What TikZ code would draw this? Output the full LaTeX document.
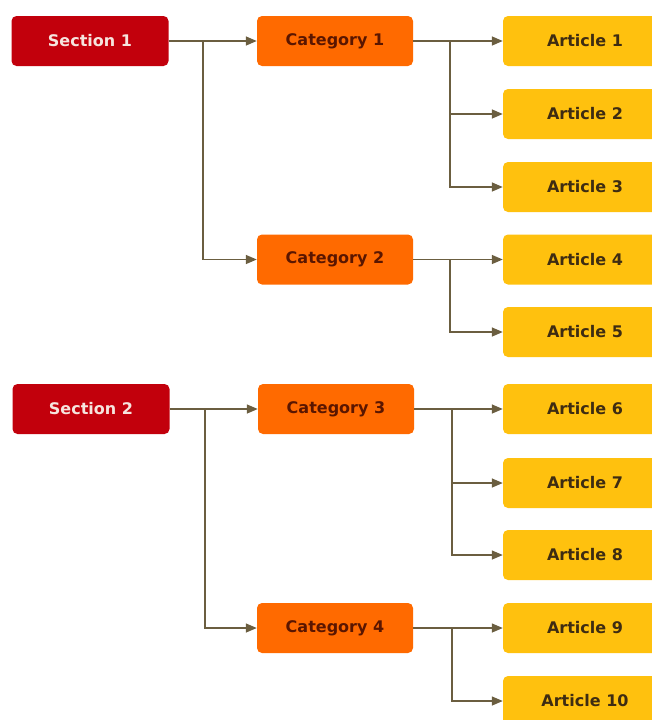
\documentclass[tikz,border=0pt]{standalone}
\usepackage{fontspec}
\setmainfont{DejaVu Sans}
\usetikzlibrary{arrows.meta}
\definecolor{secfill}{HTML}{C2000C}
\definecolor{sectext}{HTML}{F6E4DE}
\definecolor{catfill}{HTML}{FF6A00}
\definecolor{cattext}{HTML}{5A1600}
\definecolor{artfill}{HTML}{FFC10E}
\definecolor{arttext}{HTML}{3E2C12}
\definecolor{linecol}{HTML}{6B5E40}
\tikzset{
  box/.style={rounded corners=5pt, minimum height=50pt, inner sep=0pt,
    font=\fontsize{16}{19}\selectfont\bfseries},
  secbox/.style={box, fill=secfill, text=sectext, minimum width=157pt},
  catbox/.style={box, fill=catfill, text=cattext, minimum width=156pt},
  artbox/.style={box, fill=artfill, text=arttext, minimum width=170pt},
  conn/.style={draw=linecol, line width=1.4pt, -{Triangle[length=11pt,width=9pt]}},
}
\begin{document}
\begin{tikzpicture}[x=1pt,y=-1pt]
\useasboundingbox (0,0) rectangle (652,720);
\clip (0,0) rectangle (652,720);
% sections
\node[secbox] (s1) at (90,41) {Section 1};
\node[secbox] (s2) at (91,409) {Section 2};
% categories
\node[catbox] (c1) at (335,41) {Category 1};
\node[catbox] (c2) at (335,259.5) {Category 2};
\node[catbox] (c3) at (336,409) {Category 3};
\node[catbox] (c4) at (335,628) {Category 4};
% articles
\foreach \i/\y in {1/41,2/114,3/187,4/259.5,5/332,6/409,7/483,8/555,9/628,10/701}{
  \node[artbox] (a\i) at (588,\y) {\hspace*{-6pt}Article \i};
}
% junctions
\coordinate (j1) at (203,41);
\coordinate (j2) at (205,409);
\coordinate (k1) at (450,41);
\coordinate (k2) at (450,259.5);
\coordinate (k3) at (452,409);
\coordinate (k4) at (452,628);
% section -> category
\draw[conn] (s1.east) -- (c1.west);
\draw[conn] (j1) |- (c2.west);
\draw[conn] (s2.east) -- (c3.west);
\draw[conn] (j2) |- (c4.west);
% category -> article
\draw[conn] (c1.east) -- (a1.west);
\draw[conn] (k1) |- (a2.west);
\draw[conn] (k1) |- (a3.west);
\draw[conn] (c2.east) -- (a4.west);
\draw[conn] (k2) |- (a5.west);
\draw[conn] (c3.east) -- (a6.west);
\draw[conn] (k3) |- (a7.west);
\draw[conn] (k3) |- (a8.west);
\draw[conn] (c4.east) -- (a9.west);
\draw[conn] (k4) |- (a10.west);
\end{tikzpicture}
\end{document}
